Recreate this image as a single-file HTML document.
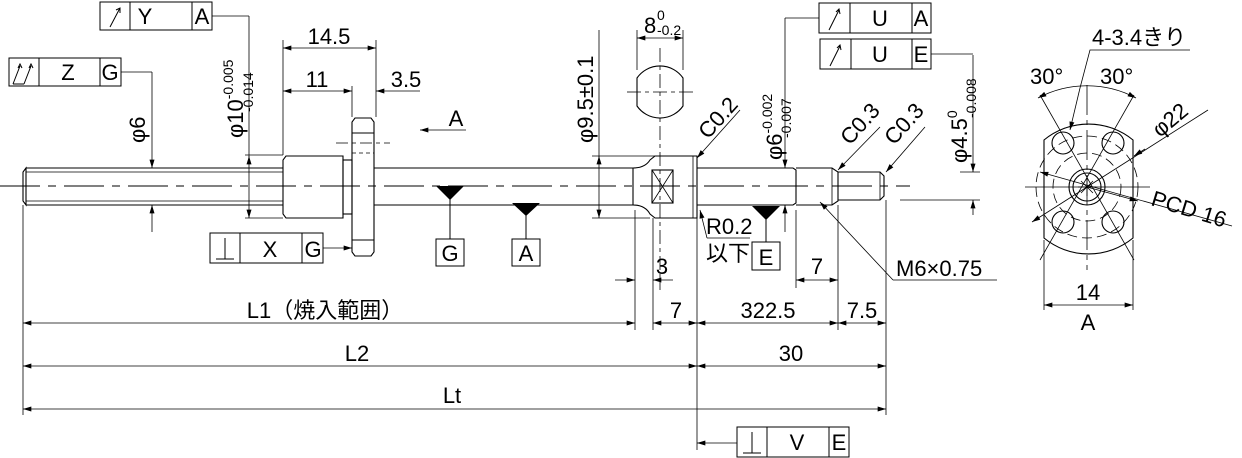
<!DOCTYPE html>
<html><head><meta charset="utf-8"><style>
html,body{margin:0;padding:0;background:#fff;}
svg{display:block;font-family:"Liberation Sans","Noto Sans CJK JP",sans-serif;}
</style></head><body>
<svg width="1242" height="458" viewBox="0 0 1242 458" xmlns="http://www.w3.org/2000/svg">
<defs>
<marker id="a" viewBox="0 0 10 6" refX="10" refY="3" markerWidth="12" markerHeight="5" orient="auto-start-reverse" markerUnits="userSpaceOnUse"><path d="M0,0L10,3L0,6Z" fill="#000"/></marker>
</defs>
<g stroke="#000" stroke-width="1.1" fill="none">
<line x1="0" y1="186" x2="910" y2="186" stroke-dasharray="40,8,8,8" stroke-width="0.9"/>
<path d="M26,168 L283,168 M26,205 L283,205 M26,168 L23,172 L23,201 L26,205 Z"/>
<line x1="26" y1="172" x2="283" y2="172" stroke-width="0.7"/>
<line x1="26" y1="201" x2="283" y2="201" stroke-width="0.7"/>
<path d="M286,156 L343,156 L343,218 L286,218 L283,214 L283,160 Z"/>
<rect x="343" y="160" width="9" height="54"/>
<path d="M355,118 L371,118 L374,122 L374,252 L371,256 L355,256 L352,252 L352,122 Z"/>
<line x1="352" y1="133" x2="374" y2="133"/><line x1="352" y1="240" x2="374" y2="240"/>
<line x1="336" y1="143" x2="390" y2="143" stroke-dasharray="12,4,4,4" stroke-width="0.8"/>
<line x1="352" y1="153" x2="374" y2="153" stroke-dasharray="4,3" stroke-width="0.8"/>
<path d="M374,168 L633,168 Q645,168 650,160 L655,156 L697,156 L697,218 L655,218 L650,214 Q645,205 633,205 L374,205"/>
<line x1="633" y1="168" x2="633" y2="205"/>
<rect x="652" y="170" width="21" height="33"/>
<path d="M652,170L673,203M673,170L652,203" stroke-width="0.8"/>
<line x1="693" y1="156" x2="693" y2="218" stroke-width="0.8"/>
<path d="M697,168 L793,168 L796,170 L796,203 L793,205 L697,205"/>
<path d="M796,168 L832,168 L838,172 L838,201 L832,205 L796,205"/>
<line x1="832" y1="168" x2="832" y2="205" stroke-width="0.8"/>
<path d="M838,172 L880,172 L884,176 L884,196 L880,200 L838,200"/>
<line x1="880" y1="172" x2="880" y2="200" stroke-width="0.8"/>
<path d="M637,78 A28,28 0 0 1 683,78 L683,106 A28,28 0 0 1 637,106 Z"/>
<line x1="660" y1="48" x2="660" y2="290" stroke-dasharray="14,4,4,4" stroke-width="0.8"/>
<line x1="627" y1="92" x2="693" y2="92" stroke-dasharray="14,4,4,4" stroke-width="0.8"/>
<line x1="637" y1="30" x2="637" y2="70" stroke-width="0.8"/><line x1="683" y1="30" x2="683" y2="70" stroke-width="0.8"/>
<line x1="637" y1="38" x2="683" y2="38" stroke-width="0.8" marker-start="url(#a)" marker-end="url(#a)"/>
<g stroke-width="0.8">
<line x1="23" y1="205" x2="23" y2="415"/>
<line x1="635" y1="210" x2="635" y2="330"/>
<line x1="653" y1="218" x2="653" y2="330"/>
<line x1="697" y1="218" x2="697" y2="450"/>
<line x1="796" y1="210" x2="796" y2="288"/>
<line x1="838" y1="205" x2="838" y2="330"/>
<line x1="886" y1="200" x2="886" y2="415"/>
<line x1="283" y1="40" x2="283" y2="155"/>
<line x1="376" y1="40" x2="376" y2="117"/>
<line x1="352" y1="86" x2="352" y2="117"/>
<line x1="245" y1="155" x2="283" y2="155"/><line x1="245" y1="218" x2="283" y2="218"/>
<line x1="592" y1="156" x2="655" y2="156"/><line x1="592" y1="218" x2="650" y2="218"/>
<line x1="960" y1="172" x2="980" y2="172"/><line x1="900" y1="200" x2="980" y2="200"/>
</g>
<g stroke-width="0.8">
<line x1="283" y1="48" x2="376" y2="48" marker-start="url(#a)" marker-end="url(#a)"/>
<line x1="283" y1="91" x2="352" y2="91" marker-start="url(#a)" marker-end="url(#a)"/>
<line x1="376" y1="91" x2="420" y2="91" marker-start="url(#a)"/>
<line x1="420" y1="130" x2="466" y2="130" marker-start="url(#a)"/>
<line x1="152" y1="72" x2="152" y2="168" marker-end="url(#a)"/>
<line x1="152" y1="205" x2="152" y2="232" marker-start="url(#a)"/>
<line x1="249" y1="16" x2="249" y2="218" marker-end="url(#a)"/>
<line x1="249" y1="156" x2="249" y2="160" marker-start="url(#a)"/>
<line x1="599" y1="30" x2="599" y2="218" marker-end="url(#a)"/>
<line x1="599" y1="156" x2="599" y2="160" marker-start="url(#a)"/>
<line x1="785" y1="18" x2="785" y2="168" marker-end="url(#a)"/>
<line x1="785" y1="205" x2="785" y2="232" marker-start="url(#a)"/>
<line x1="973" y1="55" x2="973" y2="172" marker-end="url(#a)"/>
<line x1="973" y1="200" x2="973" y2="215" marker-start="url(#a)"/>
<line x1="23" y1="323" x2="635" y2="323" marker-start="url(#a)" marker-end="url(#a)"/>
<line x1="653" y1="323" x2="697" y2="323" marker-start="url(#a)" marker-end="url(#a)"/>
<line x1="697" y1="323" x2="838" y2="323" marker-start="url(#a)" marker-end="url(#a)"/>
<line x1="838" y1="323" x2="886" y2="323" marker-start="url(#a)" marker-end="url(#a)"/>
<line x1="23" y1="366" x2="697" y2="366" marker-start="url(#a)" marker-end="url(#a)"/>
<line x1="697" y1="366" x2="886" y2="366" marker-start="url(#a)" marker-end="url(#a)"/>
<line x1="23" y1="409" x2="886" y2="409" marker-start="url(#a)" marker-end="url(#a)"/>
<line x1="615" y1="280" x2="635" y2="280" marker-end="url(#a)"/>
<line x1="653" y1="280" x2="673" y2="280" marker-start="url(#a)"/>
<line x1="796" y1="280" x2="838" y2="280" marker-start="url(#a)" marker-end="url(#a)"/>
<line x1="740" y1="110" x2="697" y2="158" marker-end="url(#a)"/>
<line x1="880" y1="127" x2="838" y2="170" marker-end="url(#a)"/>
<line x1="925" y1="127" x2="886" y2="172" marker-end="url(#a)"/>
<line x1="707" y1="238" x2="700" y2="210" marker-end="url(#a)"/>
<line x1="707" y1="238" x2="750" y2="238"/>
<path d="M893,280 L997,280 M893,280 L820,202" marker-end="url(#a)"/>
</g>
<g stroke-width="1">
<rect x="100" y="2" width="112" height="28"/><line x1="130" y1="2" x2="130" y2="30"/><line x1="192" y1="2" x2="192" y2="30"/>
<path d="M212,16 L249,16" stroke-width="0.8"/>
<rect x="9" y="58" width="112" height="28"/><line x1="39" y1="58" x2="39" y2="86"/><line x1="100" y1="58" x2="100" y2="86"/>
<path d="M121,72 L152,72" stroke-width="0.8"/>
<rect x="210" y="233" width="113" height="30"/><line x1="240" y1="233" x2="240" y2="263"/><line x1="302" y1="233" x2="302" y2="263"/>
<line x1="323" y1="248" x2="352" y2="248" stroke-width="0.8" marker-end="url(#a)"/>
<rect x="819" y="3" width="112" height="30"/><line x1="850" y1="3" x2="850" y2="33"/><line x1="912" y1="3" x2="912" y2="33"/>
<path d="M819,18 L785,18" stroke-width="0.8"/>
<rect x="820" y="39" width="111" height="30"/><line x1="851" y1="39" x2="851" y2="69"/><line x1="912" y1="39" x2="912" y2="69"/>
<path d="M931,54 L973,54" stroke-width="0.8"/>
<rect x="737" y="427" width="112" height="30"/><line x1="767" y1="427" x2="767" y2="457"/><line x1="829" y1="427" x2="829" y2="457"/>
<line x1="737" y1="443" x2="697" y2="443" stroke-width="0.8" marker-end="url(#a)"/>
<rect x="436" y="239" width="28" height="27"/><line x1="450" y1="196" x2="450" y2="239"/>
<rect x="512" y="239" width="28" height="27"/><line x1="526" y1="212" x2="526" y2="239"/>
<rect x="752" y="242" width="28" height="28"/><line x1="766" y1="216" x2="766" y2="242"/>
</g>
<g stroke="none" fill="#000">
<path d="M436,186 L464,186 L450,200 Z"/>
<path d="M512,203 L540,203 L526,216 Z"/>
<path d="M752,206 L780,206 L766,220 Z"/>
</g>
<g stroke-width="1">
<path d="M110,27 L120,8 M116,10 L120,8 L120,13"/>
<path d="M13,84 L20,66 M18,68 L20,64 L22,68 M24,84 L31,66 M29,68 L31,64 L33,68 M13,84 L24,84"/>
<path d="M216,259 L234,259 M225,259 L225,238"/>
<path d="M829,30 L839,10 M836,12 L839,9 L840,14"/>
<path d="M830,66 L840,46 M837,48 L840,45 L841,50"/>
<path d="M743,453 L761,453 M752,453 L752,432"/>
</g>
<g stroke-width="1.1">
<path d="M1044,140 A70,70 0 0 1 1133,140 L1133,238 A70,70 0 0 1 1044,238 Z"/>
<circle cx="1087" cy="187" r="18"/><circle cx="1087" cy="187" r="14"/>
<circle cx="1063" cy="143" r="11"/><circle cx="1113" cy="143" r="11"/>
<circle cx="1063" cy="222" r="11"/><circle cx="1113" cy="222" r="11"/>
</g>
<g stroke-width="0.8">
<circle cx="1087" cy="187" r="51" stroke-dasharray="10,5"/>
<circle cx="1087" cy="187" r="34" stroke-dasharray="10,5"/>
<line x1="1025" y1="187" x2="1150" y2="187"/>
<line x1="1087" y1="85" x2="1087" y2="270" stroke-dasharray="30,5,5,5"/>
<line x1="1040" y1="95" x2="1134" y2="260"/>
<line x1="1134" y1="95" x2="1040" y2="260"/>
<path d="M1078,187L1096,187M1087,178L1087,196M1081,181L1093,193M1093,181L1081,193"/>
<line x1="1087" y1="187" x2="1208" y2="110"/>
<line x1="1032" y1="222" x2="1087" y2="187" marker-start="url(#a)"/>
<line x1="1145" y1="149" x2="1134" y2="156" marker-end="url(#a)"/>
<line x1="1040" y1="172" x2="1232" y2="226" marker-start="url(#a)"/>
<line x1="1087" y1="187" x2="1138" y2="201" marker-end="url(#a)"/>
<path d="M1038,98 A104,104 0 0 1 1136,98" marker-start="url(#a)" marker-end="url(#a)"/>
<path d="M1080,88 L1070,130" marker-end="url(#a)"/>
<path d="M1080,88 L1090,50 L1190,50"/>
<line x1="1044" y1="240" x2="1044" y2="310"/><line x1="1133" y1="240" x2="1133" y2="310"/>
<line x1="1044" y1="305" x2="1133" y2="305" marker-start="url(#a)" marker-end="url(#a)"/>
</g>
</g>
<g font-size="22" fill="#000">
<text x="145" y="24" text-anchor="middle">Y</text><text x="202" y="24" text-anchor="middle">A</text>
<text x="68" y="80" text-anchor="middle">Z</text><text x="110" y="80" text-anchor="middle">G</text>
<text x="270" y="257" text-anchor="middle">X</text><text x="313" y="257" text-anchor="middle">G</text>
<text x="880" y="26" text-anchor="middle">U</text><text x="921" y="26" text-anchor="middle">A</text>
<text x="880" y="62" text-anchor="middle">U</text><text x="921" y="62" text-anchor="middle">E</text>
<text x="797" y="450" text-anchor="middle">V</text><text x="839" y="450" text-anchor="middle">E</text>
<text x="450" y="261" text-anchor="middle">G</text><text x="526" y="261" text-anchor="middle">A</text>
<text x="766" y="265" text-anchor="middle">E</text>
<text x="329" y="44" text-anchor="middle">14.5</text>
<text x="317" y="87" text-anchor="middle">11</text>
<text x="406" y="87" text-anchor="middle">3.5</text>
<text x="456" y="126" text-anchor="middle">A</text>
<text x="676" y="318" text-anchor="middle">7</text>
<text x="662" y="274" text-anchor="middle">3</text>
<text x="817" y="274" text-anchor="middle">7</text>
<text x="768" y="318" text-anchor="middle">322.5</text>
<text x="862" y="318" text-anchor="middle">7.5</text>
<text x="325" y="318" text-anchor="middle">L1（焼入範囲）</text>
<text x="357" y="361" text-anchor="middle">L2</text>
<text x="791" y="361" text-anchor="middle">30</text>
<text x="452" y="403" text-anchor="middle">Lt</text>
<text x="896" y="276">M6×0.75</text>
<text x="706" y="234">R0.2</text>
<text x="706" y="261">以下</text>
<text x="1088" y="300" text-anchor="middle">14</text>
<text x="1088" y="330" text-anchor="middle">A</text>
<text x="1092" y="45">4-3.4きり</text>
<text x="1030" y="84">30°</text><text x="1100" y="84">30°</text>
<text transform="translate(1160,138) rotate(-40)">φ22</text>
<text transform="translate(1150,205) rotate(17)">PCD 16</text>
<text transform="translate(145,143) rotate(-90)">φ6</text>
<text transform="translate(243,138) rotate(-90)">φ10<tspan font-size="14" dy="-10">-0.005</tspan></text>
<text transform="translate(253,112) rotate(-90)" font-size="14">-0.014</text>
<text transform="translate(593,143) rotate(-90)">φ9.5±0.1</text>
<text transform="translate(782,160) rotate(-90)">φ6<tspan font-size="14" dy="-10">-0.002</tspan></text>
<text transform="translate(791,138) rotate(-90)" font-size="14">-0.007</text>
<text transform="translate(967,163) rotate(-90)">φ4.5<tspan font-size="14" dy="-10">0</tspan></text>
<text transform="translate(976,118) rotate(-90)" font-size="14">-0.008</text>
<text transform="translate(708,140) rotate(-48)">C0.2</text>
<text transform="translate(850,146) rotate(-48)">C0.3</text>
<text transform="translate(894,146) rotate(-48)">C0.3</text>
<text x="644" y="33">8</text><text x="657" y="20" font-size="14">0</text><text x="657" y="35" font-size="14">-0.2</text>
</g>
</svg>
</body></html>
